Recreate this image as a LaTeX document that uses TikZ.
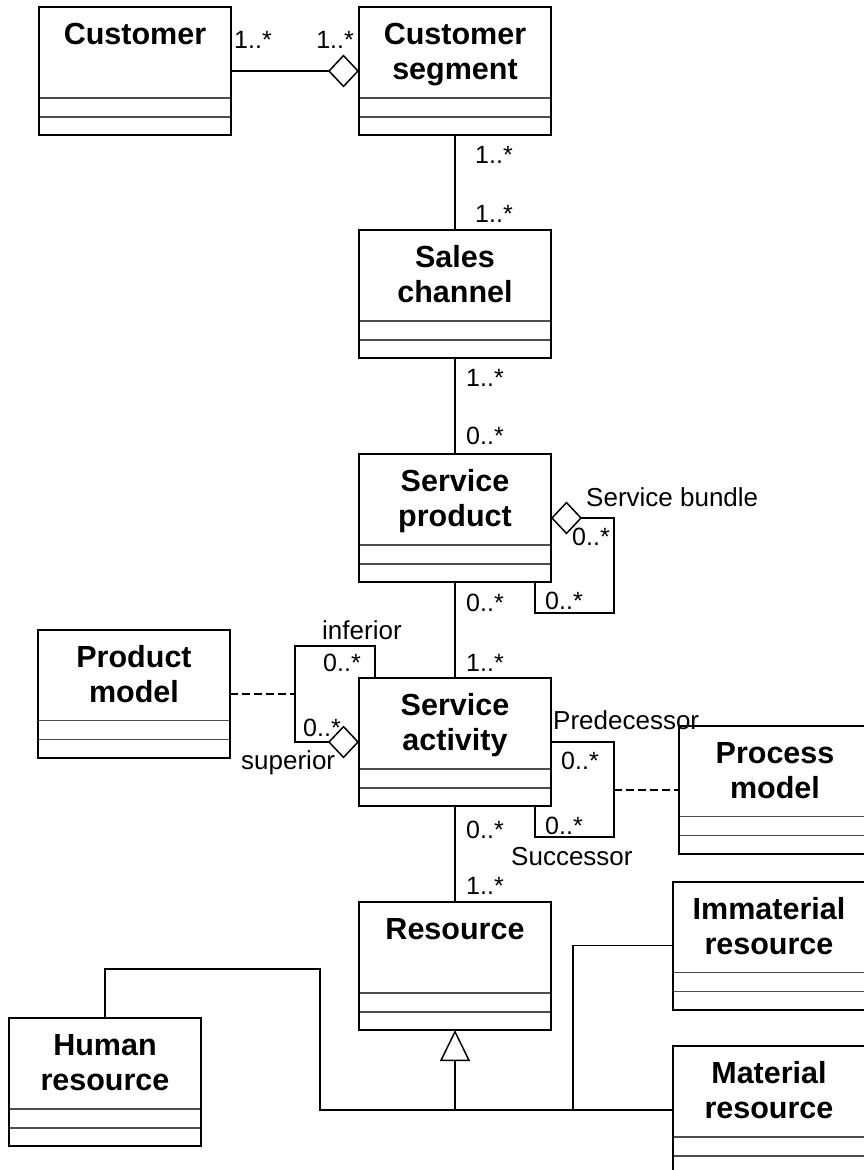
\documentclass[tikz,border=0pt]{standalone}
\usepackage{fontspec}
\setmainfont{Liberation Sans}
\usetikzlibrary{positioning,arrows.meta}

\newcommand{\titlefont}{\fontsize{30.5}{35}\selectfont\bfseries}
\newcommand{\classname}[1]{\parbox[t][128pt][t]{192pt}{\centering\titlefont\rule{0pt}{37.5pt}#1}}

\tikzset{
  umlclass/.style={draw, line width=2pt, inner sep=0pt, outer sep=0pt,
    path picture={
      \draw[black!70, line width=1.3pt]
        ([yshift=-91pt]path picture bounding box.north west) -- ([yshift=-91pt]path picture bounding box.north east)
        ([yshift=-110pt]path picture bounding box.north west) -- ([yshift=-110pt]path picture bounding box.north east);
    }},
  mult/.style={inner sep=0pt, anchor=base west, font=\fontsize{25}{30}\selectfont},
  role/.style={inner sep=0pt, anchor=base west, font=\fontsize{26}{30}\selectfont},
  assoc/.style={line width=1.5pt},
  aggr/.style={assoc, -{Diamond[open, length=31pt, width=33pt]}},
  inherit/.style={assoc, -{Triangle[open, length=31pt, width=30pt]}},
  dep/.style={line width=2pt, dash pattern=on 8pt off 4pt},
}

\begin{document}
\begin{tikzpicture}

  \useasboundingbox (0,0) rectangle (864pt,-1170pt);
  \clip (0,0) rectangle (864pt,-1170pt);

  % Classes
  \node[umlclass, anchor=north west] (cseg) at (359pt,-7pt) {\classname{Customer\\segment}}; %
  \node[umlclass, left=128pt of cseg] (cust) {\classname{Customer}}; %
  \node[umlclass, below=95pt of cseg] (sales) {\classname{Sales\\channel}}; %
  \node[umlclass, below=96pt of sales] (sprod) {\classname{Service\\product}}; %
  \node[umlclass, below=96pt of sprod] (sact) {\classname{Service\\activity}}; %
  \node[umlclass, below=96pt of sact] (res) {\classname{Resource}}; %

  \node[umlclass, left=129pt of sact, yshift=48.5pt] (pmod) {\classname{Product\\model}}; %
  \node[umlclass, right=128pt of sact, yshift=-47.5pt] (procm) {\classname{Process\\model}}; %

  \node[umlclass, left=158pt of res, yshift=-116pt] (hres) {\classname{Human\\resource}}; %
  \node[umlclass, right=122pt of res, yshift=20.5pt] (imres) {\classname{Immaterial\\resource}}; %
  \node[umlclass, right=122pt of res, yshift=-144pt] (mres) {\classname{Material\\resource}}; %

  % Associations
  \draw[aggr] (cust) -- (cseg); %
  \draw[assoc] (cseg) -- (sales); %
  \draw[assoc] (sales) -- (sprod); %
  \draw[assoc] (sprod) -- (sact); %
  \draw[assoc] (sact) -- (res); %

  \node[mult] (m-cust) at ([shift={(3pt,23pt)}]cust.east) {1..*}; %
  \node[mult, anchor=base east] (m-cseg) at ([shift={(-5pt,23pt)}]cseg.west) {1..*}; %
  \node[mult] (m-cseg2) at ([shift={(20pt,-28pt)}]cseg.south) {1..*}; %
  \node[mult] (m-sales) at ([shift={(20pt,8pt)}]sales.north) {1..*}; %
  \node[mult] (m-sales2) at ([shift={(11pt,-28pt)}]sales.south) {1..*}; %
  \node[mult] (m-sprod) at ([shift={(11pt,10pt)}]sprod.north) {0..*}; %
  \node[mult] (m-sprod2) at ([shift={(11pt,-29pt)}]sprod.south) {0..*}; %
  \node[mult] (m-sact) at ([shift={(11pt,7pt)}]sact.north) {1..*}; %
  \node[mult] (m-sact2) at ([shift={(11pt,-32pt)}]sact.south) {0..*}; %
  \node[mult] (m-res) at ([shift={(11pt,8pt)}]res.north) {1..*}; %

  % Service bundle
  \draw[aggr] ([xshift=-16pt]sprod.south east) -- ++(0,-31pt) -| ([xshift=63pt]sprod.east) -- (sprod.east); %
  \node[role] (bundle) at ([shift={(35pt,12pt)}]sprod.east) {Service bundle}; %
  \node[mult] (m-bun1) at ([shift={(21pt,-27pt)}]sprod.east) {0..*}; %
  \node[mult] (m-bun2) at ([shift={(-6pt,-27pt)}]sprod.south east) {0..*}; %

  % inferior / superior
  \coordinate (inf-l) at ([xshift=-64pt]sact.west); %
  \draw[aggr] ([xshift=16pt]sact.north west) -- ++(0,32pt) -| (inf-l) -- (sact.west); %
  \coordinate (pm-end) at (pmod.east -| inf-l); %
  \draw[dep] (pmod.east) -- (pm-end); %
  \node[role] (inferior) at ([shift={(-37pt,39pt)}]sact.north west) {inferior}; %
  \node[mult] (m-inf) at ([shift={(-36pt,7pt)}]sact.north west) {0..*}; %
  \node[mult] (m-sup) at ([shift={(-56pt,6pt)}]sact.west) {0..*}; %
  \node[role] (superior) at ([shift={(-118pt,-27pt)}]sact.west) {superior}; %

  % Predecessor / Successor
  \draw[assoc] (sact.east) -- ++(63pt,0) coordinate (pre-r) -- ++(0,-95pt) -| ([xshift=-16pt]sact.south east); %
  \coordinate (pr-end) at (procm.west -| pre-r); %
  \draw[dep] (pr-end) -- (procm.west); %
  \node[role] (pred) at ([shift={(2pt,13pt)}]sact.east) {Predecessor}; %
  \node[mult] (m-pre) at ([shift={(10pt,-27pt)}]sact.east) {0..*}; %
  \node[mult] (m-suc) at ([shift={(-6pt,-28pt)}]sact.south east) {0..*}; %
  \node[role] (succ) at ([shift={(-40pt,-59pt)}]sact.south east) {Successor}; %

  % Generalization
  \coordinate (bus) at ([yshift=-80pt]res.south); %
  \draw[inherit] (bus) -- (res.south); %
  \draw[assoc] (hres.north) -- ++(0,49pt) -| ([xshift=-135pt]bus) -- (bus); %
  \draw[assoc] (imres.west) -| ([xshift=118pt]bus) -- (bus); %
  \draw[assoc] (mres.west) -- (bus); %

\end{tikzpicture}
\end{document}
